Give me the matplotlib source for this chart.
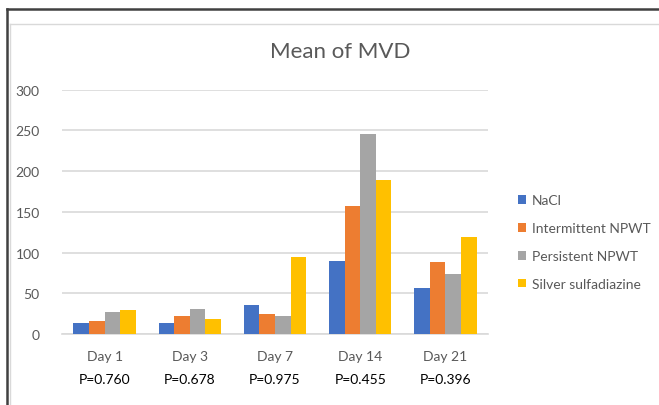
import matplotlib
matplotlib.use("Agg")
import matplotlib.pyplot as plt
import numpy as np
from matplotlib.lines import Line2D
from matplotlib.patches import Patch

plt.rcParams['font.family'] = ['Lato', 'DejaVu Sans']

categories = ["Day 1", "Day 3", "Day 7", "Day 14", "Day 21"]
p_values = ["P=0.760", "P=0.678", "P=0.975", "P=0.455", "P=0.396"]
series_names = ["NaCl", "Intermittent NPWT", "Persistent NPWT", "Silver sulfadiazine"]
nacl = [13, 13, 36, 90, 57]
intermittent = [16, 22, 25, 157, 88]
persistent = [27, 31, 22, 246, 74]
silver = [30, 19, 95, 189, 119]
series = [nacl, intermittent, persistent, silver]
colors = ["#4472C4", "#ED7D31", "#A5A5A5", "#FFC000"]

W, H = 659, 406
fig = plt.figure(figsize=(W/100, H/100), dpi=100)
fig.patch.set_facecolor("white")

# axes placement (pixels)
x0, x1, ytop, ybot = 62, 488, 90.7, 335
ax = fig.add_axes([x0/W, 1 - ybot/H, (x1-x0)/W, (ybot-ytop)/H])

x = np.arange(len(categories))
bw = 0.183
for i, (vals, c) in enumerate(zip(series, colors)):
    ax.bar(x + (i - 1.5)*bw, vals, width=bw, color=c, label=series_names[i], zorder=3)

ax.set_xlim(-0.5, len(categories) - 0.5)
ax.set_ylim(0, 300)
ax.set_yticks(np.arange(0, 301, 50))
ax.yaxis.grid(True, color="#d9d9d9", linewidth=1.2, zorder=0)
ax.set_axisbelow(True)
for s in ["top", "right", "left"]:
    ax.spines[s].set_visible(False)
ax.spines["bottom"].set_color("#d9d9d9")
ax.spines["bottom"].set_linewidth(1.2)
ax.tick_params(axis="y", length=0, pad=16, labelsize=10, labelcolor="#595959")
ax.tick_params(axis="x", length=0, pad=0)
ax.set_xticks(x)
ax.set_xticklabels([""]*len(categories))

# category labels and p-values
trans = ax.get_xaxis_transform()
for xi, cat, p in zip(x, categories, p_values):
    ax.text(xi, -(356.7 - ybot)/(ybot-ytop), cat, transform=trans, ha="center", va="center",
            fontsize=10, color="#595959")
    ax.text(xi, -(380.3 - ybot)/(ybot-ytop), p, transform=trans, ha="center", va="center",
            fontsize=10, color="black")

fig.text(340/W, 1 - 52/H, "Mean of MVD", ha="center", va="center", fontsize=16, color="#595959")

handles = [Patch(facecolor=c, edgecolor="none") for c in colors]
leg = fig.legend(handles, series_names, loc="center left", bbox_to_anchor=(511/W, 1 - 243/H),
                 frameon=False, fontsize=10, labelcolor="#595959", handlelength=0.6,
                 handleheight=0.6, handletextpad=0.4, labelspacing=1.15, borderpad=0)

# frame lines
fig.add_artist(Line2D([6.5/W, 6.5/W], [0, 1 - 10/H], color="#404040", linewidth=1.8))
fig.add_artist(Line2D([6.5/W, 1], [1 - 10/H, 1 - 10/H], color="#404040", linewidth=1.8))
fig.add_artist(Line2D([10/W, 10/W], [0, 1 - 25/H], color="#d9d9d9", linewidth=1.0))
fig.add_artist(Line2D([10/W, 1], [1 - 25/H, 1 - 25/H], color="#d9d9d9", linewidth=1.0))

fig.savefig("out.png", dpi=100, facecolor="white")
